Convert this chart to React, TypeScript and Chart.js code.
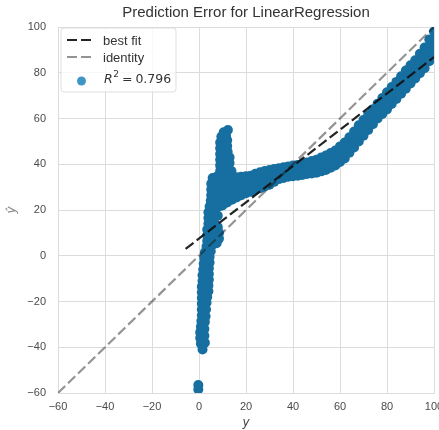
import React, { useEffect, useRef } from 'react';
import { Chart, registerables } from 'chart.js';

Chart.register(...registerables);

// ---------- data ----------
const tickValues = [-60, -40, -20, 0, 20, 40, 60, 80, 100];
const tickLabels = ['−60', '−40', '−20', '0', '20', '40', '60', '80', '100'];

const chartTitle = 'Prediction Error for LinearRegression';
const xAxisLabel = 'y';
const yAxisLabel = 'ŷ';
const r2Value = '0.796';

// best-fit line endpoints (actual y, predicted ŷ)
const bestFitActual = [-5.7, 100];
const bestFitPred = [3.0, 86.8];
// identity line endpoints
const identityActual = [-60, 100];
const identityPred = [-60, 100];

// lower stem near y ≈ 0 (actual y, predicted ŷ)
const stemActual = [
  -0.3, -0.3, 1.5, 0.8, 2.5, 0.5, 2.3, 0.5, 2.3, 0.8, 2.5, 1, 2.8, 1.2, 1.2, 3, 1.2, 3.2,
  1.2, 3.5, 1.2, 4, 1.2, 4, 1.5, 4.2, 1.5, 4.2, 1.8, 4.2, 2, 4.5, 2.2, 4.5, 2.5, 5,
];
const stemPred = [
  -58.5, -56.5, -41, -38.5, -38, -36, -35, -33.5, -32, -31, -29, -28.5, -26.5, -26, -23.5, -23.5, -21, -20.5,
  -18.5, -18, -16, -15.5, -13.5, -13, -11, -10.5, -8.5, -8, -6, -5.5, -3.5, -3, -1, -0.5, 1.5, 2,
];

// upper stem and the spike that rises to ŷ ≈ 55
const spikeActual = [
  3.2, 5.5, 7.5, 3.5, 5.5, 8.5, 3.5, 6, 8.5, 3.5, 6, 8, 4, 6.5, 4, 6.5, 8, 4, 6.5, 4.5,
  6.5, 8.5, 5, 7, 9, 5.2, 7, 9, 5.2, 7, 9, 5.2, 7, 9, 5.8, 7.5, 9.5, 12, 9, 11,
  13.8, 9, 11, 13, 9, 11, 13, 9, 10.5, 12.2, 9, 10.5, 12, 9, 10.5, 12, 9.5, 11.5, 10.5, 12.3,
];
const spikePred = [
  4, 4.5, 5.5, 6.5, 7, 7.5, 9, 9.5, 10, 11.5, 12, 12.5, 14, 14.5, 16.5, 17, 17.5, 19, 19.5, 21.5,
  22, 21.5, 24, 24.5, 24.5, 26.5, 27, 27.5, 29, 29.5, 30, 31.5, 32, 32.5, 34, 34.5, 35, 35, 37, 37.5,
  37, 39.5, 40, 40.5, 42, 42.5, 43, 44.5, 45, 45.5, 47, 47.5, 48, 49.5, 50, 50.5, 52, 52.5, 54, 55,
];

// the long band of points: actual y and four rows of predicted ŷ across the band
const bandActual = [
  10, 12, 14, 16, 18, 20, 22, 24, 26, 28, 30, 32, 34, 36, 38, 40, 42, 44, 46, 48, 50, 52, 54,
  56, 58, 60, 62, 64, 66, 68, 70, 72, 74, 76, 78, 80, 82, 84, 86, 88, 90, 92, 94, 96, 98, 100,
];
const bandLow = [
  22, 23.3, 24.5, 25.5, 26.5, 27.3, 28, 28.8, 29.5, 30.3, 31, 32.3, 33.5, 34, 34.5, 34.8, 35, 35.3, 35.7, 36, 36.3, 36.9, 37.5,
  38.5, 39.5, 41, 42.5, 45, 47.3, 50, 52.5, 55, 57.5, 60, 62, 64, 66.3, 68.5, 70.8, 73, 75.3, 77.5, 79.8, 82, 85, 88.5,
];
const bandMid1 = [
  25.7, 26.7, 27.7, 28.4, 29.2, 29.8, 30.3, 31.1, 31.8, 32.5, 33.2, 34.2, 35.1, 35.6, 36, 36.3, 36.6, 37, 37.4, 37.8, 38.2, 38.9, 39.6,
  40.6, 41.7, 43.3, 44.8, 47.3, 49.6, 52.3, 54.8, 57.2, 59.7, 62.2, 64.3, 66.5, 68.8, 71, 73.4, 75.7, 78, 80.2, 82.6, 85, 88.2, 91.7,
];
const bandMid2 = [
  29.3, 30.1, 30.8, 31.4, 31.8, 32.3, 32.7, 33.5, 34.2, 34.8, 35.3, 36, 36.7, 37.1, 37.5, 37.9, 38.1, 38.6, 39.1, 39.6, 40.1, 40.9, 41.7,
  42.8, 43.8, 45.5, 47.2, 49.5, 52, 54.7, 57, 59.3, 61.8, 64.3, 66.7, 69, 71.3, 73.5, 75.9, 78.3, 80.6, 82.8, 85.5, 88, 91.3, 94.8,
];
const bandHigh = [
  33, 33.5, 34, 34.3, 34.5, 34.8, 35, 35.8, 36.5, 37, 37.5, 37.9, 38.3, 38.7, 39, 39.4, 39.7, 40.3, 40.8, 41.4, 42, 42.9, 43.8,
  44.9, 46, 47.8, 49.5, 51.8, 54.3, 57, 59.3, 61.5, 64, 66.5, 69, 71.5, 73.8, 76, 78.5, 81, 83.3, 85.5, 88.3, 91, 94.5, 98,
];

// ---------- styles ----------
const SANS = "'Liberation Sans', Arial, sans-serif";
const MATH = "'DejaVu Sans', sans-serif";
const POINT_COLOR = 'rgb(22,111,160)';
const LEGEND_POINT_COLOR = 'rgba(0,114,178,0.75)';
const FIT_COLOR = 'rgba(17,17,17,0.92)';
const IDENTITY_COLOR = 'rgba(17,17,17,0.45)';
const GRID_COLOR = '#dcdcdc';
const TICK_COLOR = '#4a4a4a';
const DASH = [10, 4];

const insideLegend = {
  id: 'insideLegend',
  afterDatasetsDraw(chart: any) {
    const { ctx, chartArea } = chart;
    const L = chartArea.left;
    const T = chartArea.top;
    ctx.save();
    ctx.beginPath();
    ctx.roundRect(L + 3, T + 1, 115, 64, 3);
    ctx.fillStyle = 'rgba(255,255,255,0.8)';
    ctx.fill();
    ctx.strokeStyle = 'rgba(215,215,215,0.8)';
    ctx.lineWidth = 1;
    ctx.stroke();

    ctx.lineWidth = 2.2;
    ctx.setLineDash(DASH);
    ctx.strokeStyle = FIT_COLOR;
    ctx.beginPath();
    ctx.moveTo(L + 9, T + 13);
    ctx.lineTo(L + 33, T + 13);
    ctx.stroke();
    ctx.strokeStyle = IDENTITY_COLOR;
    ctx.beginPath();
    ctx.moveTo(L + 9, T + 30);
    ctx.lineTo(L + 33, T + 30);
    ctx.stroke();
    ctx.setLineDash([]);

    ctx.fillStyle = '#333';
    ctx.textBaseline = 'middle';
    ctx.textAlign = 'left';
    ctx.font = `13px ${SANS}`;
    ctx.fillText('best fit', L + 45, T + 14);
    ctx.fillText('identity', L + 45, T + 31);

    ctx.fillStyle = LEGEND_POINT_COLOR;
    ctx.beginPath();
    ctx.arc(L + 23.5, T + 54, 4.5, 0, Math.PI * 2);
    ctx.fill();

    ctx.fillStyle = '#333';
    let x = L + 46;
    const y = T + 53;
    ctx.font = `italic 12.5px ${MATH}`;
    ctx.fillText('R', x, y);
    x += ctx.measureText('R').width + 0.5;
    ctx.font = `9px ${MATH}`;
    ctx.fillText('2', x, y - 5);
    x += ctx.measureText('2').width + 3;
    ctx.font = `12.5px ${MATH}`;
    ctx.fillText('=', x, y);
    x += ctx.measureText('=').width + 3;
    ctx.fillText(r2Value, x, y);
    ctx.restore();
  },
};

const tickCallback = (v: any) => {
  const i = tickValues.indexOf(Number(v));
  return i >= 0 ? tickLabels[i] : '';
};

export default function App() {
  const ref = useRef<HTMLCanvasElement>(null);

  useEffect(() => {
    const canvas = ref.current;
    if (!canvas) return;

    const scatterData: { x: number; y: number }[] = [];
    stemActual.forEach((a, i) => scatterData.push({ x: a, y: stemPred[i] }));
    spikeActual.forEach((a, i) => scatterData.push({ x: a, y: spikePred[i] }));
    bandActual.forEach((a, i) => {
      scatterData.push({ x: a, y: bandLow[i] });
      scatterData.push({ x: a, y: bandMid1[i] });
      scatterData.push({ x: a, y: bandMid2[i] });
      scatterData.push({ x: a, y: bandHigh[i] });
    });

    const gridOpts = { color: GRID_COLOR, lineWidth: 1, drawTicks: false };
    const borderOpts = { display: true, color: GRID_COLOR, width: 1 };

    const chart = new Chart(canvas, {
      type: 'scatter',
      data: {
        datasets: [
          {
            type: 'line',
            label: 'best fit',
            data: bestFitActual.map((a, i) => ({ x: a, y: bestFitPred[i] })),
            borderColor: FIT_COLOR,
            borderWidth: 2.2,
            borderDash: DASH,
            pointRadius: 0,
            fill: false,
            tension: 0,
            order: 0,
            clip: 0,
          } as any,
          {
            type: 'line',
            label: 'identity',
            data: identityActual.map((a, i) => ({ x: a, y: identityPred[i] })),
            borderColor: IDENTITY_COLOR,
            borderWidth: 2.2,
            borderDash: DASH,
            pointRadius: 0,
            fill: false,
            tension: 0,
            order: 1,
            clip: 0,
          } as any,
          {
            type: 'scatter',
            label: 'R² = ' + r2Value,
            data: scatterData,
            backgroundColor: POINT_COLOR,
            borderWidth: 0,
            pointRadius: 5,
            pointHoverRadius: 5,
            order: 2,
            clip: 0,
          } as any,
        ],
      },
      options: {
        responsive: false,
        animation: false,
        devicePixelRatio: 1,
        events: [],
        layout: { padding: { left: 0, right: 4, top: 0, bottom: 0 } },
        plugins: {
          legend: { display: false },
          tooltip: { enabled: false },
          title: {
            display: true,
            text: chartTitle,
            color: '#333',
            font: { family: SANS, size: 15, weight: 'normal' },
            padding: { top: 4, bottom: 5 },
            fullSize: false,
          },
        },
        scales: {
          x: {
            type: 'linear',
            min: -60,
            max: 100,
            ticks: {
              stepSize: 20,
              callback: tickCallback,
              color: TICK_COLOR,
              font: { family: SANS, size: 11 },
              padding: 7,
              maxRotation: 0,
              autoSkip: false,
            },
            grid: gridOpts,
            border: borderOpts,
            title: {
              display: true,
              text: xAxisLabel,
              color: '#444',
              font: { family: MATH, size: 12, style: 'italic' },
              padding: { top: 0, bottom: 0 },
            },
            afterFit: (s: any) => {
              s.height = 37;
              s.paddingLeft = 0;
              s.paddingRight = 0;
            },
          },
          y: {
            type: 'linear',
            min: -60,
            max: 100,
            ticks: {
              stepSize: 20,
              callback: tickCallback,
              color: TICK_COLOR,
              font: { family: SANS, size: 11 },
              padding: 12,
              autoSkip: false,
            },
            grid: gridOpts,
            border: borderOpts,
            title: {
              display: true,
              text: yAxisLabel,
              color: '#888',
              font: { family: MATH, size: 12, style: 'italic' },
              padding: { top: 5, bottom: 0 },
            },
            afterFit: (s: any) => {
              s.width = 58;
              s.paddingTop = 0;
              s.paddingBottom = 0;
            },
          },
        },
      } as any,
      plugins: [insideLegend],
    });

    return () => chart.destroy();
  }, []);

  return (
    <div style={{ position: 'absolute', left: 0, top: 0, width: 439, height: 430, background: '#fff' }}>
      <canvas ref={ref} width={439} height={430} style={{ display: 'block', width: 439, height: 430 }} />
    </div>
  );
}
